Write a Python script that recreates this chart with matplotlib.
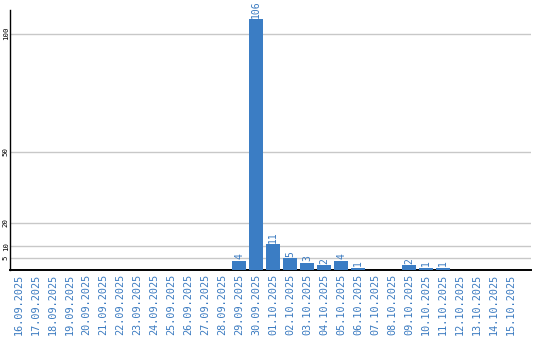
import matplotlib
matplotlib.use("Agg")
import matplotlib.pyplot as plt
import numpy as np

dates = ["16.09.2025", "17.09.2025", "18.09.2025", "19.09.2025", "20.09.2025",
         "21.09.2025", "22.09.2025", "23.09.2025", "24.09.2025", "25.09.2025",
         "26.09.2025", "27.09.2025", "28.09.2025", "29.09.2025", "30.09.2025",
         "01.10.2025", "02.10.2025", "03.10.2025", "04.10.2025", "05.10.2025",
         "06.10.2025", "07.10.2025", "08.10.2025", "09.10.2025", "10.10.2025",
         "11.10.2025", "12.10.2025", "13.10.2025", "14.10.2025", "15.10.2025"]
values = [0, 0, 0, 0, 0, 0, 0, 0, 0, 0, 0, 0, 0, 4, 106,
          11, 5, 3, 2, 4, 1, 0, 0, 2, 1, 1, 0, 0, 0, 0]
yticks = [5, 10, 20, 50, 100]

bar_color = "#3b7dc4"
text_color = "#3a7ac0"
font = "DejaVu Sans Mono"

W, H = 540, 340
fig = plt.figure(figsize=(W / 100, H / 100), dpi=100)
ax = fig.add_axes([10 / W, (H - 270) / H, 521 / W, 260 / H])

x = np.arange(len(dates))
ax.bar(x, values, width=0.82, color=bar_color, zorder=3)
ax.set_xlim(-0.5, 30.18)
ax.set_ylim(0, 110)

for xi, v in zip(x, values):
    if v > 0:
        ax.text(xi, v + 0.6, str(v), rotation=90, ha="center", va="bottom",
                color=text_color, fontsize=7, family=font)

ax.set_yticks(yticks)
ax.set_yticklabels([str(t) for t in yticks], rotation=90, va="center",
                   fontsize=5.3, family=font, color="black")
ax.yaxis.grid(True, color="#c8c8c8", linewidth=1, zorder=0)
ax.tick_params(axis="y", length=0, pad=1)

ax.set_xticks(x)
ax.set_xticklabels(dates, rotation=90, fontsize=7.3, family=font, color=text_color)
ax.tick_params(axis="x", length=0, pad=3)

for s in ["top", "right"]:
    ax.spines[s].set_visible(False)
ax.spines["left"].set_color("black")
ax.spines["bottom"].set_color("black")
ax.spines["left"].set_linewidth(1)
ax.spines["bottom"].set_linewidth(1.4)

fig.savefig("out.png", dpi=100)
